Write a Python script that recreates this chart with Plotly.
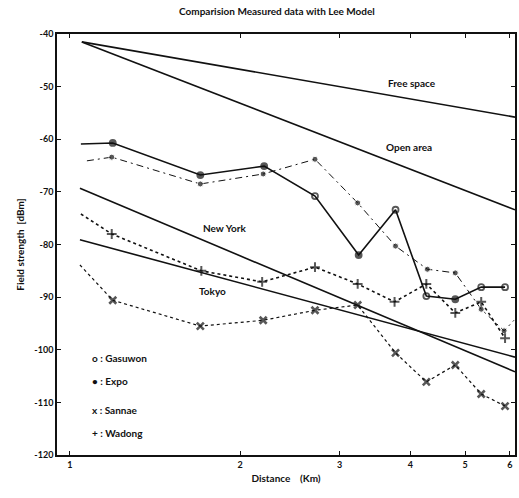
import math
import plotly.graph_objects as go

# ---- data (distance in km, field strength in dBm) ----
gasuwon_x = [1.046, 1.191, 1.701, 2.206, 2.713, 3.241, 3.766, 4.269, 4.803, 5.338, 5.882]
gasuwon_y = [-60.9, -60.7, -66.8, -65.1, -70.8, -82.0, -73.4, -89.8, -90.4, -88.1, -88.1]
gasuwon_sym = ["circle", "circle", "circle", "circle", "circle-open", "circle",
               "circle-open", "circle-open", "circle", "circle-open", "circle-open"]

expo_x = [1.072, 1.186, 1.701, 2.197, 2.713, 3.228, 3.766, 4.287, 4.803, 5.338, 5.859, 6.10]
expo_y = [-64.1, -63.4, -68.5, -66.6, -63.8, -72.1, -80.3, -84.7, -85.4, -92.3, -96.4, -94.4]

wadong_x = [1.046, 1.186, 1.708, 2.188, 2.713, 3.228, 3.751, 4.269, 4.803, 5.338, 5.882]
wadong_y = [-74.2, -78.0, -85.0, -87.1, -84.3, -87.5, -90.9, -87.5, -93.0, -90.9, -97.8]

sannae_x = [1.042, 1.191, 1.701, 2.197, 2.713, 3.228, 3.766, 4.269, 4.803, 5.338, 5.882]
sannae_y = [-83.9, -90.6, -95.5, -94.4, -92.5, -91.5, -100.6, -106.1, -102.9, -108.4, -110.7]

free_space_x = [1.050, 6.125]
free_space_y = [-41.5, -55.8]
open_area_x = [1.050, 6.125]
open_area_y = [-41.5, -73.4]
new_york_x = [1.042, 6.125]
new_york_y = [-69.3, -104.2]
tokyo_x = [1.042, 6.125]
tokyo_y = [-79.1, -101.4]

x_ticks = [1, 2, 3, 4, 5, 6]
y_ticks = [-40, -50, -60, -70, -80, -90, -100, -110, -120]

FONT = "Lato"
BLACK = "#111111"

fig = go.Figure()

def model_line(x, y):
    fig.add_trace(go.Scatter(x=x, y=y, mode="lines",
                             line=dict(color=BLACK, width=1.6), hoverinfo="skip"))

model_line(free_space_x, free_space_y)
model_line(open_area_x, open_area_y)
model_line(new_york_x, new_york_y)
model_line(tokyo_x, tokyo_y)

# Gasuwon - solid
fig.add_trace(go.Scatter(
    x=gasuwon_x, y=gasuwon_y, mode="lines+markers",
    line=dict(color=BLACK, width=1.6),
    marker=dict(symbol=gasuwon_sym, color=BLACK,
                size=[0] + [6] * (len(gasuwon_x) - 1),
                line=dict(color=BLACK, width=1.8))))

# Expo - dash-dot
fig.add_trace(go.Scatter(
    x=expo_x, y=expo_y, mode="lines+markers",
    line=dict(color=BLACK, width=1.0, dash="7px,4px,2px,4px"),
    marker=dict(symbol="circle", color=BLACK,
                size=[0] + [6] * (len(expo_x) - 2) + [0])))

# Wadong - dotted, plus markers
fig.add_trace(go.Scatter(
    x=wadong_x, y=wadong_y, mode="lines+markers",
    line=dict(color=BLACK, width=1.6, dash="dot"),
    marker=dict(symbol="cross-thin", color=BLACK,
                size=[0] + [7] * (len(wadong_x) - 1),
                line=dict(color=BLACK, width=2))))

# Sannae - dotted, x markers
fig.add_trace(go.Scatter(
    x=sannae_x, y=sannae_y, mode="lines+markers",
    line=dict(color=BLACK, width=1.2, dash="dot"),
    marker=dict(symbol="x-thin", color=BLACK,
                size=[0] + [7] * (len(sannae_x) - 1),
                line=dict(color=BLACK, width=2.6))))

def label(x, y, text, anchor="center"):
    fig.add_annotation(x=x, y=y, xref="x", yref="y", text=text, showarrow=False,
                       xanchor=anchor, font=dict(family=FONT, size=10, color=BLACK))

label(math.log10(4.02), -49.3, "<b>Free space</b>")
label(math.log10(3.98), -61.5, "<b>Open area</b>")
label(math.log10(1.875), -76.9, "<b>New York</b>")
label(math.log10(1.786), -88.8, "<b>Tokyo</b>")
label(math.log10(1.085), -101.6, "<b>o : Gasuwon</b>", "left")
label(math.log10(1.085), -105.9, "<b>• : Expo</b>", "left")
label(math.log10(1.085), -111.4, "<b>x : Sannae</b>", "left")
label(math.log10(1.085), -115.8, "<b>+ : Wadong</b>", "left")

fig.add_annotation(x=0.48, y=1.035, xref="paper", yref="paper", yanchor="bottom",
                   text="<b>Comparision Measured data with Lee Model</b>", showarrow=False,
                   font=dict(family=FONT, size=10, color=BLACK))

fig.update_layout(
    width=519, height=498,
    margin=dict(l=57, r=2, t=34, b=43),
    paper_bgcolor="white", plot_bgcolor="white",
    showlegend=False,
    font=dict(family=FONT, size=10, color=BLACK),
)
fig.update_xaxes(
    type="log", range=[-0.0227, 0.7871],
    tickvals=x_ticks, ticktext=[f"<b>{v}</b>" for v in x_ticks],
    ticks="inside", ticklen=4, tickwidth=1.2, tickcolor=BLACK,
    showline=True, linecolor=BLACK, linewidth=1.6, mirror="ticks",
    showgrid=False, zeroline=False,
    title=dict(text="<b>Distance    (Km)</b>", font=dict(family=FONT, size=10), standoff=6),
    tickfont=dict(family=FONT, size=9),
)
fig.update_yaxes(
    range=[-120, -40], tickvals=y_ticks, ticktext=[f"<b>{v}</b>" for v in y_ticks],
    ticks="inside", ticklen=4, tickwidth=1.2, tickcolor=BLACK,
    showline=True, linecolor=BLACK, linewidth=1.6, mirror="ticks",
    showgrid=False, zeroline=False,
    title=dict(text="<b>Field strength  [dBm]</b>", font=dict(family=FONT, size=10), standoff=8),
    tickfont=dict(family=FONT, size=9),
)

fig.write_html("out.html")
